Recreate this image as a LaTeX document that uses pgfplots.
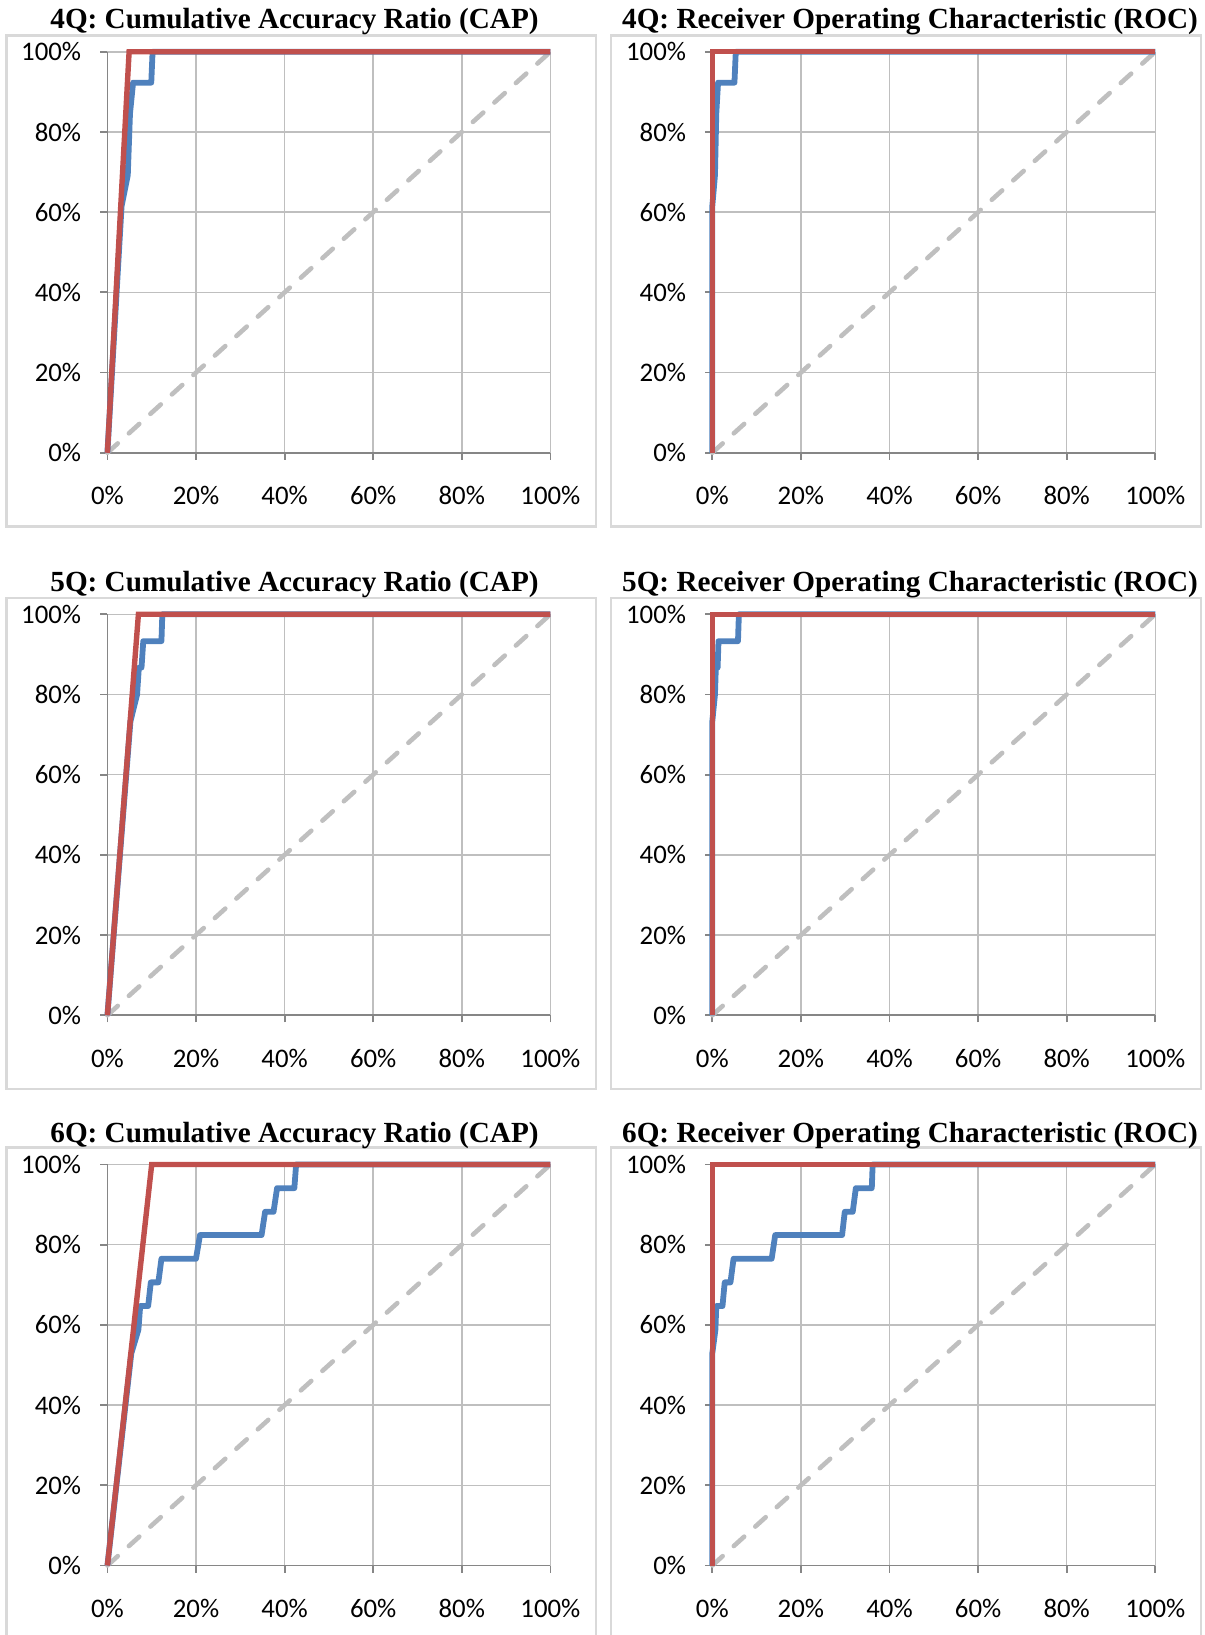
\documentclass[border=0pt]{standalone}
\usepackage{fontspec}
\setmainfont{Carlito}
\newfontfamily\titlefont{Liberation Serif}
\usepackage{pgfplots}
\pgfplotsset{compat=1.18}
\definecolor{cred}{HTML}{C0504D}
\definecolor{cblue}{HTML}{4F81BD}
\definecolor{cdiag}{HTML}{BFBFBF}
\definecolor{caxis}{HTML}{868686}
\definecolor{cgrid}{HTML}{BFBFBF}
\definecolor{cframe}{HTML}{D9D9D9}
\pgfplotsset{panel/.style={
  scale only axis, width=221.5pt, height=200.5pt, anchor=south west,
  xmin=0, xmax=100, ymin=0, ymax=100,
  xtick={0,20,...,100}, ytick={0,20,...,100},
  axis x line=bottom, axis y line=left,
  axis line style={caxis, line width=0.9pt, -},
  grid=major, major grid style={cgrid, line width=0.75pt},
  tick align=outside, major tick length=3.5pt,
  tick style={caxis, line width=0.9pt},
  /pgf/number format/assume math mode=true,
  xticklabel={\pgfmathprintnumber{\tick}\%},
  yticklabel={\pgfmathprintnumber{\tick}\%},
  tick label style={font=\fontsize{13.4}{15}\selectfont},
  xticklabel style={anchor=center, yshift=-17.9pt},
  yticklabel style={anchor=east, xshift=-6.1pt},
  clip=false,
},
diag/.style={cdiag, line width=2.3pt, line cap=round, dash pattern=on 7pt off 7.5pt},
blu/.style={cblue, line width=2.9pt, line join=round, no marks},
rd/.style={cred, line width=2.7pt, no marks},
}
\begin{document}
\begin{tikzpicture}
\clip (0,0) rectangle (602.5pt,817.5pt);
\useasboundingbox (0,0) rectangle (602.5pt,817.5pt);
% frames
\draw[cframe, line width=1.2pt] (3.15pt,554.3pt) rectangle (298pt,799.8pt);
\draw[cframe, line width=1.2pt] (305.5pt,554.3pt) rectangle (600.5pt,799.8pt);
\draw[cframe, line width=1.2pt] (3.15pt,272.85pt) rectangle (298pt,518.35pt);
\draw[cframe, line width=1.2pt] (305.5pt,272.85pt) rectangle (600.5pt,518.35pt);
\draw[cframe, line width=1.2pt] (3.15pt,-2.25pt) rectangle (298pt,243.65pt);
\draw[cframe, line width=1.2pt] (305.5pt,-2.25pt) rectangle (600.5pt,243.65pt);
% titles
\node[font=\titlefont\bfseries\fontsize{14.6}{16}\selectfont] at (147.25pt,806.5pt) {4Q: Cumulative Accuracy Ratio (CAP)};
\node[font=\titlefont\bfseries\fontsize{14.6}{16}\selectfont] at (455pt,806.5pt) {4Q: Receiver Operating Characteristic (ROC)};
\node[font=\titlefont\bfseries\fontsize{14.6}{16}\selectfont] at (147.25pt,525.05pt) {5Q: Cumulative Accuracy Ratio (CAP)};
\node[font=\titlefont\bfseries\fontsize{14.6}{16}\selectfont] at (455pt,525.05pt) {5Q: Receiver Operating Characteristic (ROC)};
\node[font=\titlefont\bfseries\fontsize{14.6}{16}\selectfont] at (147.25pt,249.9pt) {6Q: Cumulative Accuracy Ratio (CAP)};
\node[font=\titlefont\bfseries\fontsize{14.6}{16}\selectfont] at (455pt,249.9pt) {6Q: Receiver Operating Characteristic (ROC)};

% 4Q CAP
\begin{axis}[panel, at={(53.7pt,591.1pt)}]
\addplot[diag] coordinates {(0,0) (100,100)};
\addplot[blu] coordinates {(0,0) (3.2,61.5) (4.6,69.2) (5.1,84.6) (5.8,92.3) (9.9,92.3) (10.2,100) (100,100)};
\addplot[rd] coordinates {(0,0) (4.9,100) (100,100)};
\end{axis}
% 4Q ROC
\begin{axis}[panel, at={(356.15pt,591.1pt)}]
\addplot[diag] coordinates {(0,0) (100,100)};
\addplot[blu] coordinates {(0,0) (0,61.5) (0.6,69.2) (0.9,84.6) (1.3,92.3) (5.0,92.3) (5.3,100) (100,100)};
\addplot[rd] coordinates {(0,0) (0,100) (100,100)};
\end{axis}
% 5Q CAP
\begin{axis}[panel, at={(53.7pt,309.85pt)}]
\addplot[diag] coordinates {(0,0) (100,100)};
\addplot[blu] coordinates {(0,0) (5.2,73.3) (6.7,80) (7.1,86.7) (7.7,86.7) (8.1,93.3) (12.2,93.3) (12.4,100) (100,100)};
\addplot[rd] coordinates {(0,0) (7.0,100) (100,100)};
\end{axis}
% 5Q ROC
\begin{axis}[panel, at={(356.15pt,309.85pt)}]
\addplot[diag] coordinates {(0,0) (100,100)};
\addplot[blu] coordinates {(0,0) (0,73.3) (0.6,80) (0.8,86.7) (1.2,86.7) (1.4,93.3) (5.8,93.3) (6.0,100) (100,100)};
\addplot[rd] coordinates {(0,0) (0,100) (100,100)};
\end{axis}
% 6Q CAP
\begin{axis}[panel, at={(53.7pt,34.75pt)}]
\addplot[diag] coordinates {(0,0) (100,100)};
\addplot[blu] coordinates {(0,0) (5.4,52.9) (7.0,58.8) (7.4,64.7) (9.2,64.7) (9.8,70.6) (11.5,70.6) (12.2,76.5) (20.0,76.5) (20.9,82.4) (34.8,82.4) (35.6,88.2) (37.5,88.2) (38.3,94.1) (42.2,94.1) (42.6,100) (100,100)};
\addplot[rd] coordinates {(0,0) (10.0,100) (100,100)};
\end{axis}
% 6Q ROC
\begin{axis}[panel, at={(356.15pt,34.75pt)}]
\addplot[diag] coordinates {(0,0) (100,100)};
\addplot[blu] coordinates {(0,0) (0,52.9) (0.7,58.8) (0.9,64.7) (2.3,64.7) (2.8,70.6) (4.1,70.6) (4.8,76.5) (13.4,76.5) (14.2,82.4) (29.3,82.4) (29.9,88.2) (31.7,88.2) (32.4,94.1) (36.0,94.1) (36.2,100) (100,100)};
\addplot[rd] coordinates {(0,0) (0,100) (100,100)};
\end{axis}
\end{tikzpicture}
\end{document}
